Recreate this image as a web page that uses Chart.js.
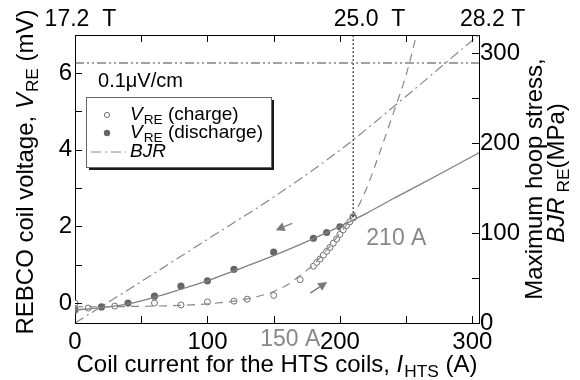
<!DOCTYPE html>
<html>
<head>
<meta charset="utf-8">
<script src="https://cdn.jsdelivr.net/npm/chart.js@4.4.0/dist/chart.umd.min.js"></script>
<style>
  html, body { margin: 0; padding: 0; background: #fff; }
  #chart { display: block; }
</style>
</head>
<body>
<canvas id="chart" width="580" height="380"></canvas>
<script>
// Medidas na carga (A, mV)
const chargeCurrent = [0, 10, 30, 60, 80, 100, 120, 130, 150, 170, 180, 182.5, 185, 187.5, 190, 192.5, 195, 197.5, 200, 202.5, 205, 207.5, 210];
const chargeVoltage = [0.0, -0.13, -0.08, 0.0, -0.05, 0.03, 0.05, 0.1, 0.2, 0.61, 0.96, 1.06, 1.15, 1.25, 1.35, 1.45, 1.56, 1.67, 1.79, 1.91, 2.02, 2.12, 2.22];

// Medidas na descarga (A, mV)
const dischargeCurrent = [0, 20, 40, 60, 80, 100, 120, 150, 180, 190, 200, 210];
const dischargeVoltage = [-0.18, -0.1, 0.0, 0.18, 0.44, 0.58, 0.88, 1.33, 1.69, 1.84, 1.99, 2.24];

// Curvas ajustadas
const chargeFitCurrent = [0, 40, 80, 100, 110, 120, 130, 140, 150, 160, 170, 180, 190, 200, 210, 220, 230, 240, 250, 260];
const chargeFitVoltage = [-0.1, -0.09, -0.06, -0.02, 0.01, 0.05, 0.11, 0.19, 0.3, 0.47, 0.72, 1.0, 1.38, 1.82, 2.28, 2.98, 3.92, 4.92, 5.95, 7.3];
const dischargeFitCurrent = [0, 20, 40, 60, 80, 100, 120, 140, 160, 180, 200, 220, 240, 260, 280, 305];
const dischargeFitVoltage = [-0.18, -0.12, -0.02, 0.15, 0.36, 0.58, 0.84, 1.1, 1.38, 1.68, 2.0, 2.34, 2.72, 3.08, 3.45, 3.92];

// Tensao circunferencial maxima BJR (MPa)
const bjrCurrent = [0, 50, 100, 150, 200, 250, 300, 305];
const bjrStress = [0, 46, 93, 140, 192, 252, 314, 320];

// Criterio 0.1 uV/cm e corrente de operacao
const criterionVoltage = 6.26;
const operatingCurrent = 210;

// Campo central no eixo de cima
const fieldCurrent = [0, 210, 300];
const fieldLabels = ['17.2  T', '25.0  T', '28.2 T'];
const fieldShift = [-8, 3, 10];

// Ticks dos eixos
const xTicks = [0, 50, 100, 150, 200, 250, 300];
const topTicks = [50, 100, 150, 200, 250, 300];
const voltTicks = [0, 1, 2, 3, 4, 5, 6];
const stressTicks = [0, 50, 100, 150, 200, 250, 300];

// Limites dos eixos
const currentMax = 305;
const voltMin = -0.52, voltMax = 6.99;
const stressMax = 320;

const FONT = '"Liberation Sans", Arial, Helvetica, sans-serif';
const GRAY = '#7a7a7a';

function font(size, italic) {
    return (italic ? 'italic ' : '') + size + 'px ' + FONT;
}

function toPoints(xs, ys) {
    return xs.map((x, i) => ({ x: x, y: ys[i] }));
}

// Escreve texto com italico e subscrito
function drawRich(ctx, runs, x, y, size, align) {
    const widths = runs.map(r => {
        ctx.font = font(r.sub ? size * 0.72 : size, r.italic);
        return ctx.measureText(r.text).width + (r.gap || 0);
    });
    const total = widths.reduce((a, b) => a + b, 0);
    let cx = align === 'center' ? x - total / 2 : x;
    ctx.textAlign = 'left';
    ctx.textBaseline = 'middle';
    runs.forEach((r, i) => {
        ctx.font = font(r.sub ? size * 0.72 : size, r.italic);
        ctx.fillText(r.text, cx + (r.gap || 0), r.sub ? y + size * 0.3 : y);
        cx += widths[i];
    });
}

function drawArrow(ctx, x1, y1, x2, y2) {
    const ang = Math.atan2(y2 - y1, x2 - x1);
    const len = 9, half = 4.5;
    const bx = x2 - Math.cos(ang) * len, by = y2 - Math.sin(ang) * len;
    ctx.beginPath();
    ctx.moveTo(x1, y1);
    ctx.lineTo(bx, by);
    ctx.stroke();
    ctx.beginPath();
    ctx.moveTo(x2, y2);
    ctx.lineTo(bx + Math.sin(ang) * half, by - Math.cos(ang) * half);
    ctx.lineTo(bx - Math.sin(ang) * half, by + Math.cos(ang) * half);
    ctx.closePath();
    ctx.fill();
}

// Ticks para dentro, titulos, legenda e anotacoes
const decorPlugin = {
    id: 'decor',
    afterDraw(chart) {
        const ctx = chart.ctx;
        const { x, x2, y, y2 } = chart.scales;
        const area = chart.chartArea;
        ctx.save();

        ctx.strokeStyle = '#000';
        ctx.lineWidth = 1;
        ctx.beginPath();
        x.ticks.forEach(t => {
            const p = Math.round(x.getPixelForValue(t.value)) + 0.5;
            ctx.moveTo(p, area.bottom); ctx.lineTo(p, area.bottom - 7);
        });
        x2.ticks.forEach(t => {
            const p = Math.round(x2.getPixelForValue(t.value)) + 0.5;
            ctx.moveTo(p, area.top); ctx.lineTo(p, area.top + 7);
        });
        y.ticks.forEach(t => {
            const p = Math.round(y.getPixelForValue(t.value)) + 0.5;
            ctx.moveTo(area.left, p); ctx.lineTo(area.left + 7, p);
        });
        y2.ticks.forEach(t => {
            const p = Math.round(y2.getPixelForValue(t.value)) + 0.5;
            ctx.moveTo(area.right, p); ctx.lineTo(area.right - 7, p);
        });
        ctx.stroke();

        // Campo magnetico em cima
        ctx.fillStyle = '#000';
        ctx.font = font(23);
        ctx.textBaseline = 'middle';
        ctx.textAlign = 'left';
        fieldCurrent.forEach((c, i) => {
            const num = fieldLabels[i].split(' ')[0];
            const w = ctx.measureText(num).width;
            ctx.fillText(fieldLabels[i], x2.getPixelForValue(c) - w / 2 + fieldShift[i], 20);
        });

        // Titulos dos eixos
        drawRich(ctx, [
            { text: 'Coil current for the HTS coils, ' },
            { text: 'I', italic: true },
            { text: 'HTS', sub: true, gap: 1 },
            { text: ' (A)' }
        ], (area.left + area.right) / 2, 365, 24, 'center');

        ctx.save();
        ctx.translate(26, 172);
        ctx.rotate(-Math.PI / 2);
        drawRich(ctx, [
            { text: 'REBCO coil voltage, ' },
            { text: 'V', italic: true },
            { text: 'RE', sub: true, gap: 1 },
            { text: ' (mV)' }
        ], 0, 0, 24, 'center');
        ctx.restore();

        ctx.save();
        ctx.translate(535, 179);
        ctx.rotate(-Math.PI / 2);
        drawRich(ctx, [{ text: 'Maximum hoop stress,' }], 0, 0, 24, 'center');
        drawRich(ctx, [
            { text: 'BJR', italic: true },
            { text: 'RE', sub: true, gap: 5 },
            { text: '(MPa)' }
        ], 6, 22, 24, 'center');
        ctx.restore();

        // Legenda
        const lx = area.left + 11, ly = area.top + 62, lw = 185, lh = 70;
        ctx.fillStyle = '#1a1a1a';
        ctx.fillRect(lx + 3, ly + 3, lw, lh);
        ctx.fillStyle = '#fff';
        ctx.fillRect(lx, ly, lw, lh);
        ctx.strokeStyle = '#666';
        ctx.strokeRect(lx + 0.5, ly + 0.5, lw, lh);

        const ds = chart.data.datasets;
        const rows = [ly + 18, ly + 36, ly + 55];
        ctx.lineWidth = 1;
        ctx.strokeStyle = ds[5].borderColor;
        ctx.fillStyle = ds[5].backgroundColor;
        ctx.beginPath(); ctx.arc(lx + 21, rows[0], 2.6, 0, Math.PI * 2); ctx.fill(); ctx.stroke();
        ctx.fillStyle = ds[6].backgroundColor;
        ctx.beginPath(); ctx.arc(lx + 21, rows[1], 3.2, 0, Math.PI * 2); ctx.fill();
        ctx.strokeStyle = ds[2].borderColor;
        ctx.setLineDash(ds[2].borderDash);
        ctx.beginPath(); ctx.moveTo(lx + 5, rows[2]); ctx.lineTo(lx + 40, rows[2]); ctx.stroke();
        ctx.setLineDash([]);

        ctx.fillStyle = '#000';
        drawRich(ctx, [{ text: 'V', italic: true }, { text: 'RE', sub: true, gap: 1 }, { text: ' (charge)' }], lx + 44, rows[0], 19, 'left');
        drawRich(ctx, [{ text: 'V', italic: true }, { text: 'RE', sub: true, gap: 1 }, { text: ' (discharge)' }], lx + 44, rows[1], 19, 'left');
        drawRich(ctx, [{ text: 'BJR', italic: true }], lx + 44, rows[2], 19, 'left');

        // Anotacoes
        ctx.fillStyle = '#000';
        ctx.font = font(20);
        ctx.textAlign = 'left';
        ctx.fillText('0.1\u03bcV/cm', x.getPixelForValue(17.4), y.getPixelForValue(5.79));

        ctx.fillStyle = '#888';
        ctx.font = font(23);
        ctx.textAlign = 'center';
        ctx.fillText('210 A', x.getPixelForValue(242.6), y.getPixelForValue(1.69));
        ctx.fillText('150 A', x.getPixelForValue(162.5), y.getPixelForValue(-0.96));

        ctx.strokeStyle = GRAY;
        ctx.fillStyle = GRAY;
        ctx.lineWidth = 1.3;
        drawArrow(ctx, x.getPixelForValue(164), y.getPixelForValue(2.08), x.getPixelForValue(151.5), y.getPixelForValue(1.9));
        drawArrow(ctx, x.getPixelForValue(177.6), y.getPixelForValue(0.26), x.getPixelForValue(190.4), y.getPixelForValue(0.55));

        ctx.restore();
    }
};

function initChart() {
    const ctx = document.getElementById('chart').getContext('2d');
    Chart.defaults.font.family = FONT;
    Chart.defaults.color = '#000';

    const axisBorder = { display: true, color: '#000', width: 1 };
    const noGrid = { display: false, drawTicks: false };
    const setTicks = list => scale => { scale.ticks = list.map(v => ({ value: v })); };

    new Chart(ctx, {
        type: 'scatter',
        data: {
            datasets: [
                {
                    label: '0.1 uV/cm',
                    data: [{ x: 0, y: criterionVoltage }, { x: currentMax, y: criterionVoltage }],
                    showLine: true, borderColor: '#444', borderWidth: 1.2,
                    borderDash: [9, 3, 2, 3, 2, 3], pointRadius: 0, yAxisID: 'y'
                },
                {
                    label: '210 A',
                    data: [{ x: operatingCurrent, y: dischargeVoltage[dischargeVoltage.length - 1] }, { x: operatingCurrent, y: voltMax }],
                    showLine: true, borderColor: '#000', borderWidth: 1,
                    borderDash: [2, 2], pointRadius: 0, yAxisID: 'y'
                },
                {
                    label: 'BJR',
                    data: toPoints(bjrCurrent, bjrStress),
                    showLine: true, borderColor: '#888', borderWidth: 1.2,
                    borderDash: [10, 4, 2, 4], pointRadius: 0, yAxisID: 'y2',
                    cubicInterpolationMode: 'monotone'
                },
                {
                    label: 'charge fit',
                    data: toPoints(chargeFitCurrent, chargeFitVoltage),
                    showLine: true, borderColor: '#888', borderWidth: 1.2,
                    borderDash: [8, 6], pointRadius: 0, yAxisID: 'y',
                    cubicInterpolationMode: 'monotone'
                },
                {
                    label: 'discharge fit',
                    data: toPoints(dischargeFitCurrent, dischargeFitVoltage),
                    showLine: true, borderColor: '#808080', borderWidth: 1.3,
                    pointRadius: 0, yAxisID: 'y',
                    cubicInterpolationMode: 'monotone'
                },
                {
                    label: 'VRE (charge)',
                    data: toPoints(chargeCurrent, chargeVoltage),
                    showLine: false, pointRadius: 3, borderWidth: 1,
                    borderColor: '#707070', backgroundColor: '#fff',
                    pointBorderColor: '#707070', pointBackgroundColor: '#fff', yAxisID: 'y'
                },
                {
                    label: 'VRE (discharge)',
                    data: toPoints(dischargeCurrent, dischargeVoltage),
                    showLine: false, pointRadius: 3.6, borderWidth: 0,
                    borderColor: '#666', backgroundColor: '#666',
                    pointBorderColor: '#666', pointBackgroundColor: '#666', yAxisID: 'y'
                }
            ]
        },
        options: {
            responsive: false,
            animation: false,
            devicePixelRatio: 1,
            layout: { padding: 0 },
            plugins: { legend: { display: false }, tooltip: { enabled: false } },
            scales: {
                x: {
                    type: 'linear', position: 'bottom', min: 0, max: currentMax,
                    grid: noGrid, border: axisBorder,
                    afterBuildTicks: setTicks(xTicks),
                    afterFit: s => { s.height = 57; },
                    ticks: { font: { size: 24 }, padding: 5, maxRotation: 0,
                        callback: v => v % 100 === 0 ? v : '' }
                },
                x2: {
                    type: 'linear', position: 'top', min: 0, max: currentMax,
                    grid: noGrid, border: axisBorder,
                    afterBuildTicks: setTicks(topTicks),
                    afterFit: s => { s.height = 35; },
                    ticks: { display: false }
                },
                y: {
                    type: 'linear', position: 'left', min: voltMin, max: voltMax,
                    grid: noGrid, border: axisBorder,
                    afterBuildTicks: setTicks(voltTicks),
                    afterFit: s => { s.width = 75; },
                    ticks: { font: { size: 24 }, padding: 3,
                        callback: v => v % 2 === 0 ? v : '' }
                },
                y2: {
                    type: 'linear', position: 'right', min: 0, max: stressMax,
                    grid: noGrid, border: axisBorder,
                    afterBuildTicks: setTicks(stressTicks),
                    afterFit: s => { s.width = 101; },
                    ticks: { font: { size: 24 }, padding: 1,
                        callback: v => v % 100 === 0 ? v : '' }
                }
            }
        },
        plugins: [decorPlugin]
    });
}

document.addEventListener('DOMContentLoaded', initChart);
</script>
</body>
</html>
